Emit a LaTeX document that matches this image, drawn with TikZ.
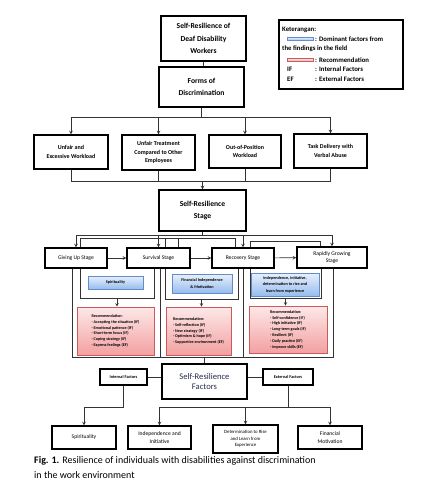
\documentclass[tikz,border=0pt]{standalone}
\usepackage{fontspec}
\setmainfont{Carlito}
\definecolor{domtop}{RGB}{232,240,253}
\definecolor{dombot}{RGB}{150,188,238}
\definecolor{domline}{RGB}{100,140,200}
\definecolor{rectop}{RGB}{253,232,232}
\definecolor{recbot}{RGB}{243,160,160}
\definecolor{recline}{RGB}{205,90,90}
\definecolor{factext}{RGB}{40,45,80}

\tikzstyle{box} = [draw=black, line width=1.4pt, fill=white, align=center, inner sep=1pt]
\tikzstyle{head} = [box, font=\bfseries\fontsize{7.6}{12.3}\selectfont]
\tikzstyle{form} = [box, font=\bfseries\fontsize{6}{8.5}\selectfont]
\tikzstyle{stage} = [box, font=\fontsize{5.6}{7}\selectfont]
\tikzstyle{dom} = [draw=domline, line width=0.6pt, top color=domtop, bottom color=dombot, align=center, inner sep=1pt, font=\bfseries\fontsize{4.2}{6.5}\selectfont]
\tikzstyle{rec} = [draw=recline, line width=0.6pt, top color=rectop, bottom color=recbot, align=left, inner sep=1pt, font=\bfseries\fontsize{4.1}{5.8}\selectfont]
\tikzstyle{side} = [box, line width=1.2pt, font=\bfseries\fontsize{4.3}{5}\selectfont]
\tikzstyle{factor} = [box, font=\fontsize{5.6}{8.3}\selectfont]
\tikzstyle{legtxt} = [anchor=west, inner sep=0pt, font=\bfseries\fontsize{6.8}{8}\selectfont]
\tikzstyle{swatch} = [minimum width=26, minimum height=3.5, inner sep=0pt, line width=0.6pt]
\tikzstyle{conn} = [draw=black!80, line width=0.6pt]
\tikzstyle{arrow} = [conn, ->, >=stealth]

\begin{document}
\begin{tikzpicture}[x=1pt, y=-1pt]
\useasboundingbox (0,0) rectangle (444,491);

% Top
\node (workers) [head, minimum width=85, minimum height=45] at (203.5,38.5) {Self-Resilience of\\Deaf Disability\\Workers};
\node (forms) [head, minimum width=85, minimum height=40] at (201.5,87) {Forms of\\Discrimination};

% Legend
\node (legend) [box, minimum width=124, minimum height=69] at (341,54.5) {};
\node (keter) [legtxt] at (282,30) {Keterangan:};
\node (swblue) [swatch, draw=domline, top color=domtop, bottom color=dombot] at (300,39) {};
\node (ldom) [legtxt] at (315,39) {: Dominant factors from};
\node (ldom2) [legtxt] at (282,49) {the findings in the field};
\node (swpink) [swatch, draw=recline, top color=rectop, bottom color=recbot] at (300,60) {};
\node (lrec) [legtxt] at (315,60) {: Recommendation};
\node (lif) [legtxt] at (287,69) {IF};
\node (lif2) [legtxt] at (315,69) {: Internal Factors};
\node (lef) [legtxt] at (287,79) {EF};
\node (lef2) [legtxt] at (315,79) {: External Factors};

% Forms of discrimination
\node (unfair) [form, minimum width=74, minimum height=34] at (71,152) {Unfair and\\Excessive Workload};
\node (treat) [form, minimum width=73, minimum height=35] at (158.5,152.5) {Unfair Treatment\\Compared to Other\\Employees};
\node (outpos) [form, minimum width=72, minimum height=33] at (245,151.5) {Out-of-Position\\Workload};
\node (verbal) [form, minimum width=73, minimum height=34] at (330.5,151) {Task Delivery with\\Verbal Abuse};

\coordinate (fbus) at (201.5,117);
\coordinate (dbus) at (202.5,181);
\draw [conn] (workers.south) -- (workers.south |- forms.north);
\draw [conn] (forms.south) -- (fbus);
\draw [arrow] (fbus) -| (unfair);
\draw [arrow] (fbus) -| (treat);
\draw [arrow] (fbus) -| (outpos);
\draw [arrow] (fbus) -| (verbal);

% Stage
\node (stage) [head, minimum width=87, minimum height=41] at (202.5,210.5) {Self-Resilience\\Stage};
\draw [conn] (unfair) |- (dbus);
\draw [conn] (treat) |- (dbus);
\draw [conn] (outpos) |- (dbus);
\draw [conn] (verbal) |- (dbus);
\draw [arrow] (dbus) -- (stage);

\node (giveup) [stage, minimum width=62, minimum height=20] at (76,258) {Giving Up Stage};
\node (survive) [stage, minimum width=63, minimum height=20] at (158.5,258) {Survival Stage};
\node (recover) [stage, minimum width=62, minimum height=20] at (243,258) {Recovery Stage};
\node (rapid) [stage, minimum width=70, minimum height=21] at (332,257.5) {Rapidly Growing\\Stage};

\coordinate (sbus) at (202.5,235);
\draw [conn] (stage) -- (sbus);
\draw [arrow] (sbus) -| (giveup);
\draw [arrow] (sbus) -| (survive);
\draw [arrow] (sbus) -| (recover);
\draw [arrow] (sbus) -| (rapid);
\draw [arrow] (giveup) -- (survive);
\draw [arrow] (survive) -- (recover);
\draw [arrow] (recover) -- (rapid);

\draw [conn] ([xshift=4pt]giveup.north) -- ++(0,-9) -| ([xshift=19.5pt]survive.north);
\draw [conn] ([xshift=6.5pt]survive.north) -- ++(0,-9) -| ([xshift=-8pt]recover.north);
\draw [conn] ([xshift=7pt]recover.north) -- ++(0,-6) -| ([xshift=-12pt]rapid.north);

% Dominant factors and recommendations
\node (dom1) [dom, minimum width=55, minimum height=13] at (115.5,282.5) {Spirituality};
\node (dom2) [dom, minimum width=60, minimum height=19] at (202,283.5) {Financial Independence\\\& Motivation};
\node (dom3) [dom, minimum width=68, minimum height=23] at (285,284.5) {Independence, initiative,\\determination to rise and\\learn from experience};

\draw [conn] ([xshift=4pt]giveup.south) -- ++(0,30) -| coordinate[pos=0.25] (f1) ([xshift=-4.5pt]survive.south);
\draw [conn] ([xshift=6.5pt]survive.south) -- ++(0,31) -| coordinate[pos=0.25] (f2) ([xshift=-5pt]recover.south);
\draw [conn] ([xshift=7pt]recover.south) -- ++(0,30) -| coordinate[pos=0.25] (f3) ([xshift=-11pt]rapid.south);

\node (rec1) [rec, minimum width=77, minimum height=48] at (115.5,331) {Recommendation:\\- Accepting the situation (IF)\\- Emotional patience (IF)\\- Short-term focus (IF)\\- Coping strategy (IF)\\- Express feelings (EF)};
\node (rec2) [rec, minimum width=65, minimum height=48] at (198.5,331) {Recommendation:\\- Self-reflection (IF)\\- New strategy (IF)\\- Optimism \& hope (IF)\\- Supportive environment (EF)};
\node (rec3) [rec, minimum width=78, minimum height=47] at (288,329.5) {Recommendation:\\- Self-confidence (IF)\\- High initiative (IF)\\- Long-term goals (IF)\\- Resilient (IF)\\- Daily practice (EF)\\- Improve skills (EF)};

\draw [arrow] (f1) -- (f1 |- rec1.north);
\draw [arrow] (f2) -- (f2 |- rec2.north);
\draw [arrow] (f3) -- (f3 |- rec3.north);

\draw [conn] ([xshift=-4pt]giveup.south) -- ++(0,89) coordinate (fr) -| ([xshift=1pt]rapid.south);
\draw [conn] ([xshift=1.5pt]survive.south) -- ([xshift=1.5pt]survive.south |- fr);
\draw [conn] (recover.south) -- (recover.south |- fr);

% Factors
\node (factors) [box, minimum width=85, minimum height=35, font=\fontsize{8.6}{10.2}\selectfont, text=factext] at (204.5,381.5) {Self-Resilience\\Factors};
\node (internal) [side, minimum width=47, minimum height=16] at (123.5,377) {Internal Factors};
\node (external) [side, minimum width=50, minimum height=16] at (288,377) {External Factors};
\draw [conn] (fr -| factors) -- (factors);
\draw [conn] (internal.east) -- (internal.east -| factors.west);
\draw [conn] (external.west) -- (external.west -| factors.east);

\node (spirit) [factor, minimum width=64, minimum height=23] at (84,437.5) {Spirituality};
\node (indep) [factor, minimum width=63, minimum height=23] at (159.5,437.5) {Independence and\\Initiative};
\node (determ) [factor, minimum width=65, minimum height=28, font=\fontsize{4.8}{6.7}\selectfont] at (245.5,439) {Determination to Rise\\and Learn from\\Experience};
\node (finmot) [factor, minimum width=64, minimum height=23] at (330,437.5) {Financial\\Motivation};

\coordinate (ibus) at (123.5,407);
\coordinate (ebus) at (288,407);
\draw [conn] (internal) -- (ibus);
\draw [conn] (external) -- (ebus);
\draw [arrow] (ibus) -| (spirit);
\draw [arrow] (ebus) -| (indep);
\draw [arrow] (ebus) -| (determ);
\draw [arrow] (ebus) -| (finmot);

% Caption
\node (caption) [anchor=north west, align=left, inner sep=0pt, font=\fontsize{10}{15}\selectfont] at (34,456) {\textbf{Fig. 1.} Resilience of individuals with disabilities against discrimination\\in the work environment};
\end{tikzpicture}
\end{document}
